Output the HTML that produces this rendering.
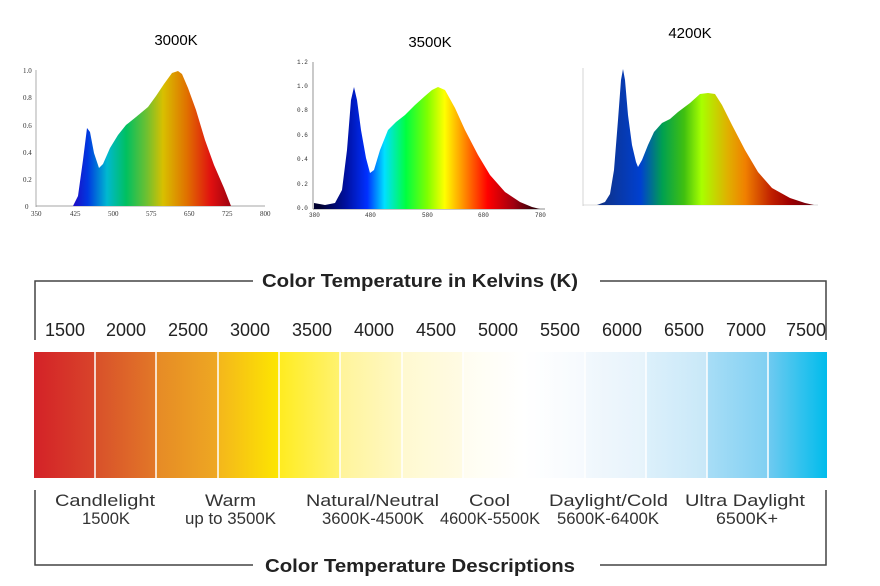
<!DOCTYPE html>
<html><head><style>
body{margin:0;background:#fff;width:880px;height:586px;overflow:hidden}
svg{display:block}
</style></head><body>
<svg width="880" height="586" xmlns="http://www.w3.org/2000/svg" font-family="Liberation Sans, sans-serif">
<defs>
<linearGradient id="g1" gradientUnits="userSpaceOnUse" x1="75" y1="0" x2="235" y2="0">
<stop offset="0" stop-color="#1a10c8"/><stop offset="0.08" stop-color="#0038e0"/><stop offset="0.2" stop-color="#00b8d0"/><stop offset="0.32" stop-color="#00c060"/><stop offset="0.45" stop-color="#70c030"/><stop offset="0.55" stop-color="#d8c000"/><stop offset="0.7" stop-color="#e07000"/><stop offset="0.85" stop-color="#e01010"/><stop offset="1" stop-color="#900010"/>
</linearGradient>
<linearGradient id="g2" gradientUnits="userSpaceOnUse" x1="320" y1="0" x2="535" y2="0">
<stop offset="0" stop-color="#000030"/><stop offset="0.12" stop-color="#0010a0"/><stop offset="0.22" stop-color="#0030ff"/><stop offset="0.3" stop-color="#00e0ff"/><stop offset="0.4" stop-color="#00ff40"/><stop offset="0.5" stop-color="#80ff00"/><stop offset="0.58" stop-color="#ffff00"/><stop offset="0.68" stop-color="#ff8000"/><stop offset="0.78" stop-color="#ff0000"/><stop offset="0.9" stop-color="#a00010"/><stop offset="1" stop-color="#300008"/>
</linearGradient>
<linearGradient id="g3" gradientUnits="userSpaceOnUse" x1="597" y1="0" x2="815" y2="0">
<stop offset="0" stop-color="#103080"/><stop offset="0.2" stop-color="#0040d0"/><stop offset="0.3" stop-color="#00a050"/><stop offset="0.4" stop-color="#40c010"/><stop offset="0.48" stop-color="#a8ff00"/><stop offset="0.6" stop-color="#e0b000"/><stop offset="0.68" stop-color="#f08000"/><stop offset="0.8" stop-color="#c02000"/><stop offset="0.88" stop-color="#a00000"/><stop offset="1" stop-color="#600010"/>
</linearGradient>
<linearGradient id="s1"><stop offset="0" stop-color="#d42228"/><stop offset="1" stop-color="#d8442a"/></linearGradient>
<linearGradient id="s2"><stop offset="0" stop-color="#d8502a"/><stop offset="1" stop-color="#e27828"/></linearGradient>
<linearGradient id="s3"><stop offset="0" stop-color="#e68a26"/><stop offset="1" stop-color="#eea822"/></linearGradient>
<linearGradient id="s4"><stop offset="0" stop-color="#f4b61c"/><stop offset="1" stop-color="#fde600"/></linearGradient>
<linearGradient id="s5"><stop offset="0" stop-color="#ffec20"/><stop offset="1" stop-color="#fff270"/></linearGradient>
<linearGradient id="s6"><stop offset="0" stop-color="#fff49a"/><stop offset="1" stop-color="#fff8c4"/></linearGradient>
<linearGradient id="s7"><stop offset="0" stop-color="#fff9d0"/><stop offset="1" stop-color="#fffbe4"/></linearGradient>
<linearGradient id="s8"><stop offset="0" stop-color="#fffdf0"/><stop offset="1" stop-color="#ffffff"/></linearGradient>
<linearGradient id="s9"><stop offset="0" stop-color="#ffffff"/><stop offset="1" stop-color="#f6fafe"/></linearGradient>
<linearGradient id="s10"><stop offset="0" stop-color="#f2f8fd"/><stop offset="1" stop-color="#e6f3fb"/></linearGradient>
<linearGradient id="s11"><stop offset="0" stop-color="#dcf0fb"/><stop offset="1" stop-color="#c8e8f8"/></linearGradient>
<linearGradient id="s12"><stop offset="0" stop-color="#a8ddf6"/><stop offset="1" stop-color="#80d0f2"/></linearGradient>
<linearGradient id="s13"><stop offset="0" stop-color="#70caf0"/><stop offset="1" stop-color="#00bcec"/></linearGradient>
</defs>

<text x="176" y="45" font-size="15" text-anchor="middle">3000K</text>
<text x="430" y="47" font-size="15" text-anchor="middle">3500K</text>
<text x="690" y="38" font-size="15" text-anchor="middle">4200K</text>

<g font-family="Liberation Serif, serif" font-size="7" fill="#333">
<line x1="36" y1="70" x2="36" y2="207" stroke="#888" stroke-width="0.7"/>
<line x1="36" y1="206" x2="265" y2="206" stroke="#888" stroke-width="0.7"/>
<text x="23" y="73">1.0</text><text x="23" y="100">0.8</text><text x="23" y="128">0.6</text><text x="23" y="155">0.4</text><text x="23" y="182">0.2</text><text x="25" y="209">0</text>
<text x="31" y="216">350</text><text x="70" y="216">425</text><text x="108" y="216">500</text><text x="146" y="216">575</text><text x="184" y="216">650</text><text x="222" y="216">725</text><text x="260" y="216">800</text>
</g>
<path d="M73,206 L78,196 L83,160 L87,128 L90,132 L94,153 L99,168 L103,164 L110,148 L118,135 L126,125 L136,117 L148,107 L156,96 L164,84 L172,73 L178,71 L182,74 L188,88 L196,110 L205,140 L214,165 L224,188 L231,206 Z" fill="url(#g1)"/>

<g font-family="Liberation Mono, monospace" font-size="6" fill="#333">
<line x1="313" y1="62" x2="313" y2="209" stroke="#666" stroke-width="0.7"/>
<line x1="313" y1="209" x2="545" y2="209" stroke="#666" stroke-width="0.7"/>
<text x="297" y="64">1.2</text><text x="297" y="88">1.0</text><text x="297" y="112">0.8</text><text x="297" y="137">0.6</text><text x="297" y="161">0.4</text><text x="297" y="186">0.2</text><text x="297" y="210">0.0</text>
<text x="309" y="217">380</text><text x="365" y="217">480</text><text x="422" y="217">580</text><text x="478" y="217">680</text><text x="535" y="217">780</text>
</g>
<path d="M314,203 L325,205 L335,203 L342,190 L347,150 L351,100 L354,87 L357,100 L361,130 L366,158 L370,173 L374,170 L380,150 L388,130 L396,122 L405,115 L415,105 L425,96 L432,90 L438,87 L445,90 L455,108 L465,130 L478,155 L490,175 L505,192 L520,202 L532,207 L540,209 L314,209 Z" fill="url(#g2)"/>

<g stroke="#bbb" stroke-width="0.6">
<line x1="583" y1="68" x2="583" y2="206"/><line x1="583" y1="205" x2="818" y2="205"/>
</g>
<path d="M597,205 L605,202 L610,194 L614,170 L618,120 L621,80 L623,69 L625,80 L628,115 L632,145 L636,162 L638,167 L642,160 L648,145 L654,132 L662,123 L670,119 L678,112 L690,103 L700,94 L708,93 L715,94 L722,105 L732,125 L745,150 L758,172 L772,188 L790,198 L805,203 L814,205 Z" fill="url(#g3)"/>

<g stroke="#444" stroke-width="1.5" fill="none">
<polyline points="35,340 35,281 253,281"/>
<polyline points="600,281 826,281 826,340"/>
<polyline points="35,490 35,565 253,565"/>
<polyline points="600,565 826,565 826,490"/>
</g>
<text x="262" y="287" font-size="18" font-weight="bold" textLength="316" lengthAdjust="spacingAndGlyphs" fill="#222">Color Temperature in Kelvins (K)</text>
<text x="265" y="572" font-size="18" font-weight="bold" textLength="310" lengthAdjust="spacingAndGlyphs" fill="#222">Color Temperature Descriptions</text>

<g font-size="18" fill="#222" text-anchor="middle">
<text x="65" y="336">1500</text><text x="126" y="336">2000</text><text x="188" y="336">2500</text><text x="250" y="336">3000</text><text x="312" y="336">3500</text><text x="374" y="336">4000</text><text x="436" y="336">4500</text><text x="498" y="336">5000</text><text x="560" y="336">5500</text><text x="622" y="336">6000</text><text x="684" y="336">6500</text><text x="746" y="336">7000</text><text x="806" y="336">7500</text>
</g>

<g>
<rect x="34" y="352" width="61" height="126" fill="url(#s1)"/>
<rect x="95" y="352" width="61" height="126" fill="url(#s2)"/>
<rect x="156" y="352" width="62" height="126" fill="url(#s3)"/>
<rect x="218" y="352" width="61" height="126" fill="url(#s4)"/>
<rect x="279" y="352" width="61" height="126" fill="url(#s5)"/>
<rect x="340" y="352" width="62" height="126" fill="url(#s6)"/>
<rect x="402" y="352" width="61" height="126" fill="url(#s7)"/>
<rect x="463" y="352" width="61" height="126" fill="url(#s8)"/>
<rect x="524" y="352" width="61" height="126" fill="url(#s9)"/>
<rect x="585" y="352" width="61" height="126" fill="url(#s10)"/>
<rect x="646" y="352" width="61" height="126" fill="url(#s11)"/>
<rect x="707" y="352" width="61" height="126" fill="url(#s12)"/>
<rect x="768" y="352" width="59" height="126" fill="url(#s13)"/>
</g>
<g stroke="#fff" stroke-width="1.5">
<line x1="95" y1="352" x2="95" y2="478"/><line x1="156" y1="352" x2="156" y2="478"/><line x1="218" y1="352" x2="218" y2="478"/><line x1="279" y1="352" x2="279" y2="478"/><line x1="340" y1="352" x2="340" y2="478"/><line x1="402" y1="352" x2="402" y2="478"/><line x1="463" y1="352" x2="463" y2="478"/><line x1="585" y1="352" x2="585" y2="478"/><line x1="646" y1="352" x2="646" y2="478"/><line x1="707" y1="352" x2="707" y2="478"/><line x1="768" y1="352" x2="768" y2="478"/>
</g>

<g font-size="17" fill="#333">
<text x="55" y="506" textLength="100" lengthAdjust="spacingAndGlyphs">Candlelight</text><text x="82" y="524" textLength="48" lengthAdjust="spacingAndGlyphs">1500K</text>
<text x="205" y="506" textLength="51" lengthAdjust="spacingAndGlyphs">Warm</text><text x="185" y="524" textLength="91" lengthAdjust="spacingAndGlyphs">up to 3500K</text>
<text x="306" y="506" textLength="133" lengthAdjust="spacingAndGlyphs">Natural/Neutral</text><text x="322" y="524" textLength="102" lengthAdjust="spacingAndGlyphs">3600K-4500K</text>
<text x="469" y="506" textLength="41" lengthAdjust="spacingAndGlyphs">Cool</text><text x="440" y="524" textLength="100" lengthAdjust="spacingAndGlyphs">4600K-5500K</text>
<text x="549" y="506" textLength="119" lengthAdjust="spacingAndGlyphs">Daylight/Cold</text><text x="557" y="524" textLength="102" lengthAdjust="spacingAndGlyphs">5600K-6400K</text>
<text x="685" y="506" textLength="120" lengthAdjust="spacingAndGlyphs">Ultra Daylight</text><text x="716" y="524" textLength="62" lengthAdjust="spacingAndGlyphs">6500K+</text>
</g>
</svg>
</body></html>
